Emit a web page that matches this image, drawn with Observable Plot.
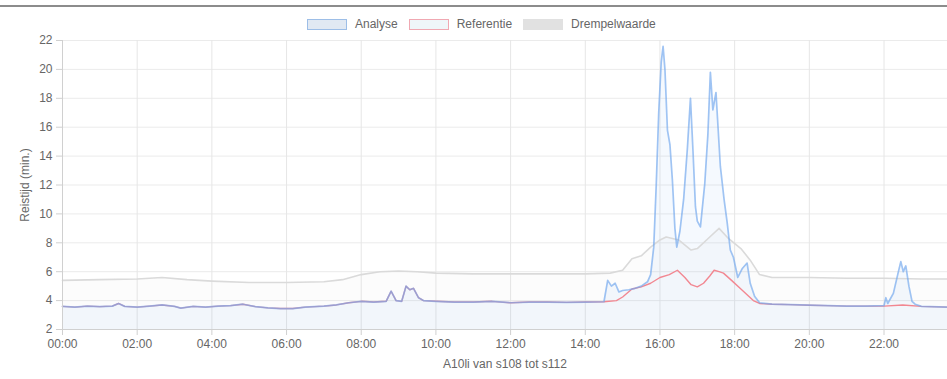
<!DOCTYPE html>
<html>
<head>
<meta charset="utf-8">
<script src="https://cdn.jsdelivr.net/npm/d3@7"></script>
<script src="https://cdn.jsdelivr.net/npm/@observablehq/plot@0.6"></script>
<style>
  html, body { margin: 0; padding: 0; background: #fff; }
  body { width: 947px; height: 379px; position: relative; overflow: hidden; font-family: "Liberation Sans", Arial, sans-serif; }
  #topline { position: absolute; left: 0; top: 5px; width: 947px; height: 2px; background: #8c8c8c; }
  #legend { position: absolute; left: 307px; top: 18px; height: 12px; display: flex; align-items: center; font-size: 12px; color: #666; white-space: nowrap; }
  #legend .sw { width: 40px; height: 11px; margin-right: 8px; box-sizing: border-box; }
  #legend .lab { margin-right: 11px; }
  #chart { position: absolute; left: 0; top: 30px; }
</style>
</head>
<body>
<div id="topline"></div>
<div id="legend"></div>
<div id="chart"></div>
<script>
// ---- data ----
const seriesNames = ["Analyse", "Referentie", "Drempelwaarde"];

const referentieTimes = ["00:00","00:20","00:40","01:00","01:20","01:30","01:40","02:00","02:20","02:40","03:00","03:10","03:30","03:50","04:10","04:30","04:50","05:10","05:30","05:50","06:10","06:30","07:00","07:20","07:40","08:00","08:20","08:40","08:48","08:56","09:05","09:12","09:18","09:24","09:32","09:40","10:00","10:30","11:00","11:30","12:00","12:30","13:00","13:30","14:00","14:30","14:50","15:00","15:15","15:30","15:45","16:00","16:15","16:28","16:40","16:50","17:00","17:10","17:20","17:27","17:35","17:42","17:55","18:10","18:20","18:30","18:40","19:00","19:30","20:00","20:30","21:00","21:30","22:00","22:30","23:00","23:42"];
const referentieValues = [3.60,3.55,3.62,3.58,3.62,3.80,3.60,3.55,3.62,3.70,3.60,3.48,3.60,3.55,3.62,3.65,3.75,3.58,3.50,3.45,3.45,3.55,3.62,3.70,3.85,3.95,3.90,3.95,4.65,4.00,3.95,5.00,4.75,4.85,4.20,4.00,3.95,3.90,3.90,3.95,3.85,3.90,3.90,3.88,3.90,3.92,4.00,4.25,4.80,4.95,5.20,5.60,5.80,6.10,5.60,5.10,4.95,5.20,5.70,6.10,6.00,5.90,5.40,4.80,4.40,4.00,3.80,3.75,3.72,3.68,3.65,3.62,3.62,3.62,3.70,3.60,3.55];

const analyseTimes = ["00:00","00:20","00:40","01:00","01:20","01:30","01:40","02:00","02:20","02:40","03:00","03:10","03:30","03:50","04:10","04:30","04:50","05:10","05:30","05:50","06:10","06:30","07:00","07:20","07:40","08:00","08:20","08:40","08:48","08:56","09:05","09:12","09:18","09:24","09:32","09:40","10:00","10:30","11:00","11:30","12:00","12:30","13:00","13:30","14:00","14:30","14:36","14:42","14:48","14:54","15:00","15:10","15:20","15:30","15:40","15:45","15:50","15:54","15:58","16:02","16:05","16:08","16:12","16:16","16:20","16:24","16:27","16:32","16:38","16:44","16:49","16:53","16:57","17:00","17:05","17:12","17:17","17:21","17:25","17:30","17:37","17:43","17:48","17:53","17:58","18:05","18:12","18:20","18:25","18:32","18:40","19:00","19:30","20:00","20:30","21:00","21:30","22:00","22:03","22:06","22:15","22:22","22:27","22:31","22:35","22:40","22:45","22:50","23:00","23:42"];
const analyseValues = [3.60,3.55,3.62,3.58,3.62,3.80,3.60,3.55,3.62,3.70,3.60,3.48,3.60,3.55,3.62,3.65,3.75,3.58,3.50,3.45,3.45,3.55,3.62,3.70,3.85,3.95,3.90,3.95,4.65,4.00,3.95,5.00,4.75,4.85,4.20,4.00,3.95,3.90,3.90,3.95,3.85,3.90,3.90,3.88,3.90,3.92,5.40,5.00,5.20,4.60,4.70,4.75,4.85,5.00,5.30,5.80,7.70,12.0,17.0,20.5,21.6,20.0,15.8,14.8,12.3,9.0,7.7,8.8,11.0,14.5,18.0,14.4,10.5,9.5,9.1,12.1,15.5,19.8,17.2,18.4,13.3,11.0,9.4,7.5,7.0,5.6,6.2,6.6,5.2,4.3,3.85,3.75,3.72,3.68,3.65,3.62,3.62,3.65,4.20,3.80,4.50,5.80,6.70,6.00,6.40,5.00,3.95,3.75,3.60,3.55];

const drempelTimes = ["00:00","01:00","02:00","02:40","03:20","04:00","05:00","06:00","07:00","07:30","08:00","08:30","09:00","09:30","10:00","11:00","12:00","13:00","14:00","14:40","15:00","15:15","15:30","15:45","16:00","16:10","16:30","16:50","17:00","17:20","17:35","17:50","18:10","18:25","18:40","19:00","20:00","21:00","22:00","23:00","23:42"];
const drempelValues = [5.40,5.45,5.50,5.60,5.45,5.35,5.25,5.25,5.30,5.45,5.80,6.00,6.05,6.00,5.90,5.85,5.85,5.85,5.85,5.90,6.10,6.90,7.10,7.70,8.20,8.40,8.20,7.50,7.60,8.40,9.00,8.30,7.60,6.80,5.80,5.60,5.60,5.55,5.55,5.50,5.50];

const xTicks = ["00:00","02:00","04:00","06:00","08:00","10:00","12:00","14:00","16:00","18:00","20:00","22:00"];
const yTicks = [2,4,6,8,10,12,14,16,18,20,22];
const xTitle = "A10li van s108 tot s112";
const yTitle = "Reistijd (min.)";

// ---- build tables ----
const toH = s => { const [h, m] = s.split(":").map(Number); return h + m / 60; };
const mk = (ts, vs) => ts.map((t, i) => ({t: toH(t), v: vs[i]}));
const analyse = mk(analyseTimes, analyseValues);
const referentie = mk(referentieTimes, referentieValues);
const drempel = mk(drempelTimes, drempelValues);

const colors = {
  Analyse: {stroke: "rgb(115,168,238)", fill: "rgba(120,175,235,0.07)"},
  Referentie: {stroke: "rgb(242,135,145)"},
  Drempelwaarde: {stroke: "rgb(218,218,218)", fill: "rgba(215,215,215,0.07)"}
};

// legend
const legend = document.getElementById("legend");
const swStyles = {
  Analyse: "background: rgba(205,218,235,0.6); border: 1px solid rgba(150,185,230,0.9);",
  Referentie: "background: rgba(228,240,245,0.6); border: 1px solid rgba(240,160,170,0.9);",
  Drempelwaarde: "background: rgb(225,225,225); border: 1px solid rgb(225,225,225);"
};
seriesNames.forEach((n, i) => {
  const sw = document.createElement("div");
  sw.className = "sw"; sw.style.cssText = swStyles[n];
  const lab = document.createElement("div");
  lab.className = "lab"; lab.textContent = n;
  legend.appendChild(sw); legend.appendChild(lab);
});

const chart = Plot.plot({
  width: 947,
  height: 349,
  marginLeft: 62,
  marginRight: 0,
  marginTop: 10,
  marginBottom: 50,
  style: {fontFamily: "'Liberation Sans', Arial, sans-serif", fontSize: "12px", color: "#666", background: "transparent"},
  x: {type: "linear", domain: [0, 23.7]},
  y: {domain: [2, 22]},
  marks: [
    Plot.gridY(yTicks, {stroke: "#ebebeb", strokeOpacity: 1}),
    Plot.gridX(xTicks.map(toH), {stroke: "#e6e6e6", strokeOpacity: 1}),
    Plot.areaY(drempel, {x: "t", y1: 2, y2: "v", fill: colors.Drempelwaarde.fill}),
    Plot.areaY(analyse, {x: "t", y1: 2, y2: "v", fill: colors.Analyse.fill}),
    Plot.lineY(drempel, {x: "t", y: "v", stroke: colors.Drempelwaarde.stroke, strokeWidth: 1.6}),
    Plot.lineY(referentie, {x: "t", y: "v", stroke: colors.Referentie.stroke, strokeWidth: 1.4}),
    Plot.lineY(analyse, {x: "t", y: "v", stroke: colors.Analyse.stroke, strokeWidth: 1.7, strokeOpacity: 0.68}),
    Plot.axisY(yTicks, {tickSize: 6, tickPadding: 4, stroke: "#d0d0d0", fill: "#666",
      label: yTitle, labelAnchor: "center", labelArrow: "none", labelOffset: 42}),
    Plot.axisX(xTicks.map(toH), {tickSize: 6, tickPadding: 4, stroke: "#d0d0d0", fill: "#666",
      tickFormat: (d, i) => xTicks[i], label: xTitle, labelAnchor: "center", labelArrow: "none", labelOffset: 38}),
    Plot.ruleX([0], {stroke: "#d0d0d0"}),
    Plot.ruleY([2], {stroke: "#d0d0d0"})
  ]
});
document.getElementById("chart").appendChild(chart);
</script>
</body>
</html>
